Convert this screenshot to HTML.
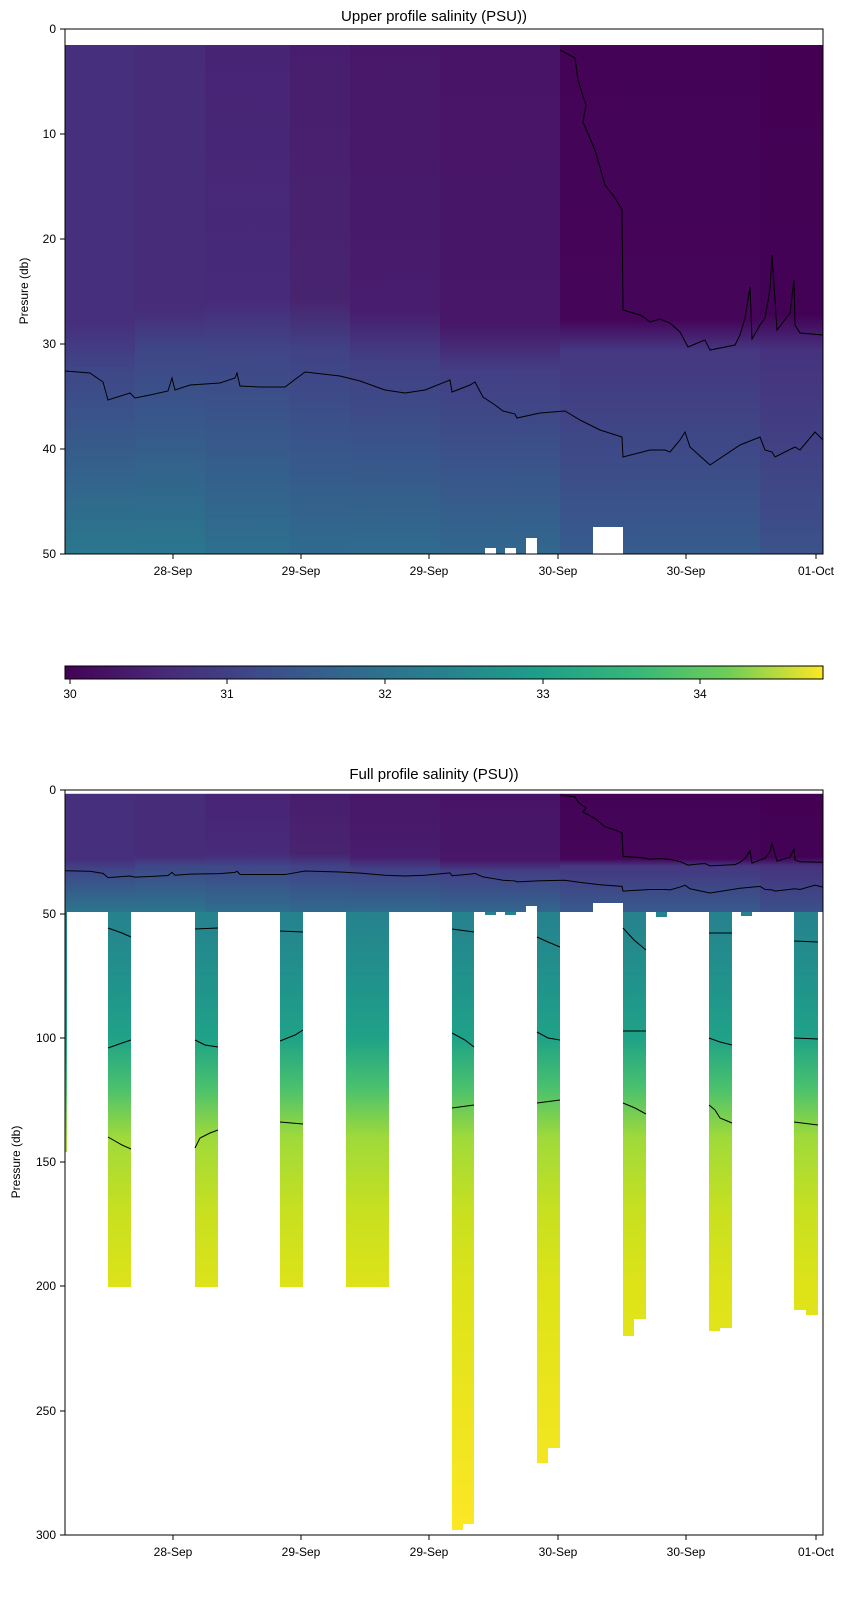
<!DOCTYPE html>
<html><head><meta charset="utf-8"><style>body{margin:0;background:#fff}svg{display:block}text{font-family:"Liberation Sans","DejaVu Sans",sans-serif;fill:#000}</style></head><body>
<svg width="867" height="1604" viewBox="0 0 867 1604" xmlns="http://www.w3.org/2000/svg">
<defs>
<linearGradient id="g1" x1="0" y1="0" x2="0" y2="1"><stop offset="0" stop-color="#46307e"/><stop offset="0.55" stop-color="#46307e"/><stop offset="0.64" stop-color="#3f4788"/><stop offset="1" stop-color="#2a788e"/></linearGradient>
<linearGradient id="g2" x1="0" y1="0" x2="0" y2="1"><stop offset="0" stop-color="#472c7a"/><stop offset="0.52" stop-color="#472c7a"/><stop offset="0.6" stop-color="#3f4788"/><stop offset="1" stop-color="#2a778e"/></linearGradient>
<linearGradient id="g3" x1="0" y1="0" x2="0" y2="1"><stop offset="0" stop-color="#482475"/><stop offset="0.5" stop-color="#472a7a"/><stop offset="0.6" stop-color="#404688"/><stop offset="1" stop-color="#2d708e"/></linearGradient>
<linearGradient id="g4" x1="0" y1="0" x2="0" y2="1"><stop offset="0" stop-color="#481d6f"/><stop offset="0.5" stop-color="#48246f"/><stop offset="0.6" stop-color="#414287"/><stop offset="1" stop-color="#2f6b8e"/></linearGradient>
<linearGradient id="g5" x1="0" y1="0" x2="0" y2="1"><stop offset="0" stop-color="#481769"/><stop offset="0.52" stop-color="#481c6e"/><stop offset="0.62" stop-color="#424086"/><stop offset="1" stop-color="#2f6c8e"/></linearGradient>
<linearGradient id="g6" x1="0" y1="0" x2="0" y2="1"><stop offset="0" stop-color="#481467"/><stop offset="0.55" stop-color="#481769"/><stop offset="0.64" stop-color="#433e85"/><stop offset="1" stop-color="#31688e"/></linearGradient>
<linearGradient id="g7" x1="0" y1="0" x2="0" y2="1"><stop offset="0" stop-color="#440356"/><stop offset="0.54" stop-color="#450559"/><stop offset="0.6" stop-color="#453781"/><stop offset="1" stop-color="#365c8d"/></linearGradient>
<linearGradient id="g8" x1="0" y1="0" x2="0" y2="1"><stop offset="0" stop-color="#440154"/><stop offset="0.53" stop-color="#440256"/><stop offset="0.6" stop-color="#46327e"/><stop offset="1" stop-color="#3b528b"/></linearGradient>
<linearGradient id="gd" gradientUnits="userSpaceOnUse" x1="0" y1="914" x2="0" y2="1535"><stop offset="0" stop-color="#26828e"/><stop offset="0.1" stop-color="#21918c"/><stop offset="0.2" stop-color="#1fa287"/><stop offset="0.28" stop-color="#4ac16d"/><stop offset="0.36" stop-color="#9fda3a"/><stop offset="0.48" stop-color="#c8e020"/><stop offset="0.6" stop-color="#dde318"/><stop offset="1" stop-color="#fde725"/></linearGradient>
<linearGradient id="cb" x1="0" y1="0" x2="1" y2="0"><stop offset="0" stop-color="#440154"/><stop offset="0.125" stop-color="#482878"/><stop offset="0.25" stop-color="#3e4989"/><stop offset="0.375" stop-color="#31688e"/><stop offset="0.5" stop-color="#26828e"/><stop offset="0.625" stop-color="#1f9e89"/><stop offset="0.75" stop-color="#35b779"/><stop offset="0.875" stop-color="#6ece58"/><stop offset="1" stop-color="#fde725"/></linearGradient>
<g id="bands">
<rect x="65" y="45" width="70" height="509" fill="url(#g1)"/>
<rect x="135" y="45" width="70" height="509" fill="url(#g2)"/>
<rect x="205" y="45" width="85" height="509" fill="url(#g3)"/>
<rect x="290" y="45" width="60" height="509" fill="url(#g4)"/>
<rect x="350" y="45" width="90" height="509" fill="url(#g5)"/>
<rect x="440" y="45" width="120" height="509" fill="url(#g6)"/>
<rect x="560" y="45" width="200" height="509" fill="url(#g7)"/>
<rect x="760" y="45" width="63" height="509" fill="url(#g8)"/>
</g>
<g id="cont" fill="none" stroke="#000" stroke-width="1">
<polyline points="65,371 90,373 103,382 108,400 130,393 135,398 150,395 168,391 172,378 175,390 190,385 220,383 235,378 237,373 240,386 260,387 285,387 305,372 340,376 360,381 385,390 405,393 425,390 450,380 452,392 470,385 475,382 483,397 495,405 503,411 515,414 517,418 540,413 565,411 580,420 600,430 622,437 623,457 650,450 665,450 670,452 680,440 685,432 690,447 710,465 740,445 760,437 765,450 772,452 775,457 795,447 800,450 815,432 823,440" vector-effect="non-scaling-stroke"/>
<polyline points="560,50 575,58 578,80 582,93 586,105 583,122 595,150 605,185 615,198 622,210 623,310 640,315 645,318 650,322 660,319 670,323 680,332 688,347 700,342 705,340 710,350 735,345 740,335 745,318 750,287 752,339 760,325 765,318 770,290 772,255 777,330 790,313 794,280 795,325 800,333 823,335" vector-effect="non-scaling-stroke"/>
</g>
</defs>
<!-- top plot -->
<use href="#bands"/>
<rect x="485" y="548" width="11" height="6" fill="#fff"/>
<rect x="505" y="548" width="11" height="6" fill="#fff"/>
<rect x="526" y="538" width="11" height="16" fill="#fff"/>
<rect x="593" y="527" width="30" height="27" fill="#fff"/>
<use href="#cont"/>
<rect x="65" y="29" width="758" height="525" fill="none" stroke="#000" stroke-width="1"/>
<text x="434" y="21" font-size="15" text-anchor="middle">Upper profile salinity (PSU))</text>
<g font-size="12" text-anchor="end">
<text x="56" y="33">0</text><text x="56" y="138">10</text><text x="56" y="243">20</text><text x="56" y="348">30</text><text x="56" y="453">40</text><text x="56" y="558">50</text>
</g>
<g stroke="#000"><line x1="60" y1="29" x2="65" y2="29"/><line x1="60" y1="134" x2="65" y2="134"/><line x1="60" y1="239" x2="65" y2="239"/><line x1="60" y1="344" x2="65" y2="344"/><line x1="60" y1="449" x2="65" y2="449"/><line x1="60" y1="554" x2="65" y2="554"/>
<line x1="173" y1="554" x2="173" y2="559"/><line x1="301" y1="554" x2="301" y2="559"/><line x1="429" y1="554" x2="429" y2="559"/><line x1="558" y1="554" x2="558" y2="559"/><line x1="686" y1="554" x2="686" y2="559"/><line x1="816" y1="554" x2="816" y2="559"/></g>
<g font-size="12" text-anchor="middle"><text x="173" y="575">28-Sep</text><text x="301" y="575">29-Sep</text><text x="429" y="575">29-Sep</text><text x="558" y="575">30-Sep</text><text x="686" y="575">30-Sep</text><text x="816" y="575">01-Oct</text></g>
<text x="28" y="291" font-size="12" text-anchor="middle" transform="rotate(-90 28 291)">Presure (db)</text>
<!-- colorbar -->
<rect x="65" y="666" width="758" height="13" fill="url(#cb)" stroke="#000"/>
<g stroke="#000"><line x1="70" y1="679" x2="70" y2="684"/><line x1="227" y1="679" x2="227" y2="684"/><line x1="385" y1="679" x2="385" y2="684"/><line x1="543" y1="679" x2="543" y2="684"/><line x1="700" y1="679" x2="700" y2="684"/></g>
<g font-size="12" text-anchor="middle"><text x="70" y="698">30</text><text x="227" y="698">31</text><text x="385" y="698">32</text><text x="543" y="698">33</text><text x="700" y="698">34</text></g>
<!-- bottom plot -->
<g transform="translate(0,783.15) scale(1,0.2362)"><use href="#bands"/><use href="#cont"/></g>
<rect x="65" y="912" width="758" height="4" fill="#fff"/>
<g fill="url(#gd)">
<rect x="65" y="912" width="2" height="240"/>
<rect x="108" y="912" width="23" height="375"/>
<rect x="195" y="912" width="23" height="375"/>
<rect x="280" y="912" width="23" height="375"/>
<rect x="346" y="912" width="43" height="375"/>
<rect x="452" y="912" width="11" height="618"/>
<rect x="463" y="912" width="11" height="612"/>
<rect x="537" y="912" width="11" height="551"/>
<rect x="548" y="912" width="12" height="536"/>
<rect x="623" y="912" width="11" height="424"/>
<rect x="634" y="912" width="12" height="407"/>
<rect x="709" y="912" width="11" height="419"/>
<rect x="720" y="912" width="12" height="416"/>
<rect x="794" y="912" width="12" height="398"/>
<rect x="806" y="912" width="12" height="403"/>
<rect x="485" y="912" width="11" height="3"/><rect x="505" y="912" width="11" height="3"/><rect x="656" y="912" width="11" height="5"/><rect x="741" y="912" width="11" height="4"/>
</g>
<rect x="526" y="906" width="11" height="8" fill="#fff"/><rect x="593" y="903" width="30" height="11" fill="#fff"/>
<g fill="none" stroke="#000" stroke-width="1">
<polyline points="108,928 122,933 131,937"/><polyline points="108,1048 122,1043 131,1040"/><polyline points="108,1137 122,1145 131,1149"/>
<polyline points="195,929 218,928"/><polyline points="195,1040 205,1045 218,1047"/><polyline points="195,1148 200,1138 210,1133 218,1130"/>
<polyline points="280,931 303,932"/><polyline points="280,1041 295,1035 303,1030"/><polyline points="280,1122 303,1124"/>
<polyline points="452,929 474,932"/><polyline points="452,1033 465,1040 474,1047"/><polyline points="452,1108 474,1105"/>
<polyline points="537,937 548,942 560,947"/><polyline points="537,1032 548,1038 560,1040"/><polyline points="537,1103 560,1100"/>
<polyline points="623,928 634,940 646,950"/><polyline points="623,1031 646,1031"/><polyline points="623,1103 635,1108 646,1114"/>
<polyline points="709,933 732,933"/><polyline points="709,1038 720,1042 732,1045"/><polyline points="709,1105 715,1110 720,1118 732,1123"/>
<polyline points="794,941 818,942"/><polyline points="794,1038 818,1039"/><polyline points="794,1122 818,1125"/>
</g>
<rect x="65" y="790" width="758" height="745" fill="none" stroke="#000" stroke-width="1"/>
<text x="434" y="779" font-size="15" text-anchor="middle">Full profile salinity (PSU))</text>
<g font-size="12" text-anchor="end">
<text x="56" y="794">0</text><text x="56" y="918">50</text><text x="56" y="1042">100</text><text x="56" y="1166">150</text><text x="56" y="1290">200</text><text x="56" y="1415">250</text><text x="56" y="1539">300</text>
</g>
<g stroke="#000"><line x1="60" y1="790" x2="65" y2="790"/><line x1="60" y1="914" x2="65" y2="914"/><line x1="60" y1="1038" x2="65" y2="1038"/><line x1="60" y1="1162" x2="65" y2="1162"/><line x1="60" y1="1286" x2="65" y2="1286"/><line x1="60" y1="1411" x2="65" y2="1411"/><line x1="60" y1="1535" x2="65" y2="1535"/>
<line x1="173" y1="1535" x2="173" y2="1540"/><line x1="301" y1="1535" x2="301" y2="1540"/><line x1="429" y1="1535" x2="429" y2="1540"/><line x1="558" y1="1535" x2="558" y2="1540"/><line x1="686" y1="1535" x2="686" y2="1540"/><line x1="816" y1="1535" x2="816" y2="1540"/></g>
<g font-size="12" text-anchor="middle"><text x="173" y="1556">28-Sep</text><text x="301" y="1556">29-Sep</text><text x="429" y="1556">29-Sep</text><text x="558" y="1556">30-Sep</text><text x="686" y="1556">30-Sep</text><text x="816" y="1556">01-Oct</text></g>
<text x="20" y="1162" font-size="12" text-anchor="middle" transform="rotate(-90 20 1162)">Pressure (db)</text>
</svg>
</body></html>
